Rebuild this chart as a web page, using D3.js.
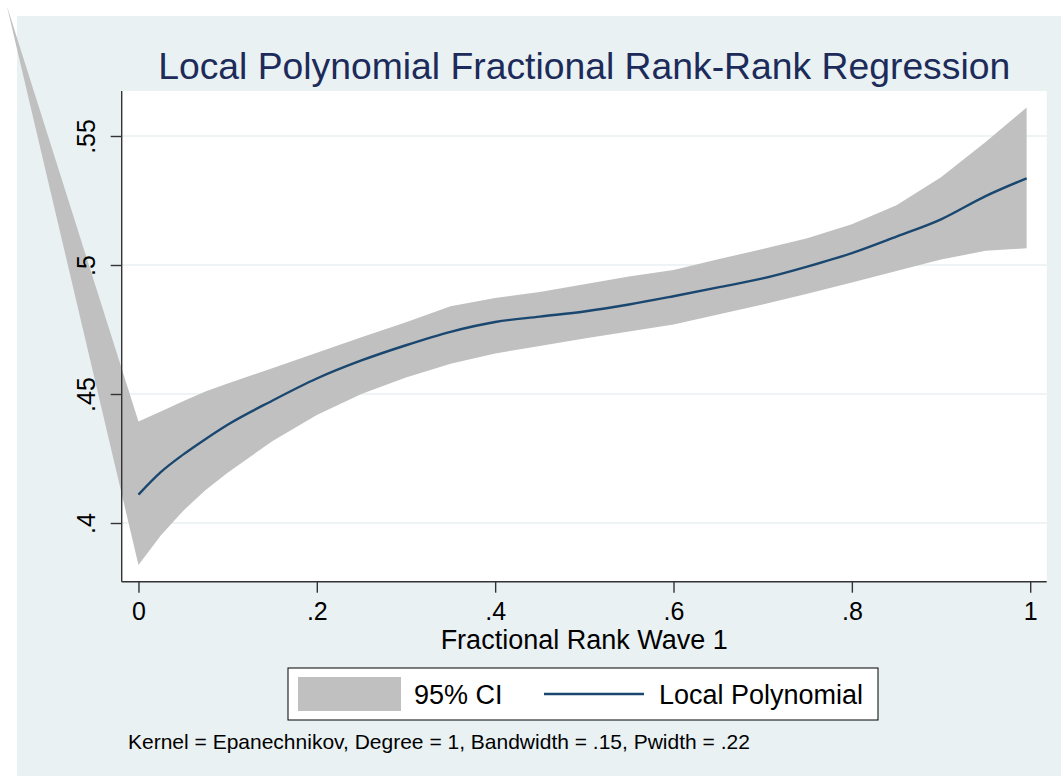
<!DOCTYPE html>
<html>
<head>
<meta charset="utf-8">
<title>Local Polynomial Fractional Rank-Rank Regression</title>
<script src="https://cdn.jsdelivr.net/npm/d3@7"></script>
<style>
    body { margin: 0; background: #fff; }
    svg { display: block; overflow: visible; }
    text { font-family: "Liberation Sans", Arial, sans-serif; }
</style>
</head>
<body>
<script>
// evaluation grid (fractional rank wave 1)
var gridX = [-0.147, 0, 0.025, 0.05, 0.075, 0.1, 0.15, 0.2, 0.25, 0.3, 0.35, 0.4, 0.45,
             0.5, 0.55, 0.6, 0.65, 0.7, 0.75, 0.8, 0.85, 0.9, 0.95, 0.996];
// 95% CI bounds
var ciUpper = [0.5998, 0.4393, 0.4432, 0.4472, 0.4510, 0.4541, 0.4600, 0.4660, 0.4720, 0.4778, 0.4840, 0.4872, 0.4895,
               0.4925, 0.4955, 0.4981, 0.5022, 0.5062, 0.5104, 0.5158, 0.5232, 0.5340, 0.5477, 0.5610];
var ciLower = [0.5995, 0.3837, 0.3952, 0.4047, 0.4127, 0.4195, 0.4317, 0.4419, 0.4500, 0.4564, 0.4617, 0.4657, 0.4686,
               0.4715, 0.4742, 0.4769, 0.4808, 0.4847, 0.4889, 0.4932, 0.4977, 0.5021, 0.5055, 0.5065];
// local polynomial fit (no estimate at the leftmost grid point)
var fitY = [null, 0.4110, 0.4197, 0.4265, 0.4325, 0.4381, 0.4474, 0.4560, 0.4630, 0.4689, 0.4741, 0.4779, 0.4800,
            0.4820, 0.4847, 0.4879, 0.4913, 0.4948, 0.4994, 0.5046, 0.5110, 0.5177, 0.5267, 0.5336];

var xTicks = [0, 0.2, 0.4, 0.6, 0.8, 1];
var yTicks = [0.4, 0.45, 0.5, 0.55];

var titleText = "Local Polynomial Fractional Rank-Rank Regression";
var xTitle = "Fractional Rank Wave 1";
var legendLabels = ["95% CI", "Local Polynomial"];
var noteText = "Kernel = Epanechnikov, Degree = 1, Bandwidth = .15, Pwidth = .22";

var W = 1061, H = 776;
var plot = { left: 121.7, right: 1046.7, top: 91, bottom: 581.7 };

var stataNum = function (v) {
    var s = d3.format("")(+v.toFixed(2));
    return s.replace(/^0\./, ".");
};

var svg = d3.select("body").append("svg")
    .attr("width", W)
    .attr("height", H);

// graph region
svg.append("rect")
    .attr("x", 17).attr("y", 16)
    .attr("width", W - 17).attr("height", H - 16)
    .attr("fill", "#e9f1f3");

// plot region
svg.append("rect")
    .attr("x", plot.left).attr("y", plot.top)
    .attr("width", plot.right - plot.left)
    .attr("height", plot.bottom - plot.top)
    .attr("fill", "#fff");

var x = d3.scaleLinear()
    .domain([-0.0188, 1.0185])
    .range([plot.left, plot.right]);
var y = d3.scaleLinear()
    .domain([0.37725, 0.56744])
    .range([plot.bottom, plot.top]);

// gridlines
svg.append("g").selectAll("line")
    .data(yTicks)
    .enter().append("line")
    .attr("x1", plot.left).attr("x2", plot.right)
    .attr("y1", function (d) { return y(d); })
    .attr("y2", function (d) { return y(d); })
    .attr("stroke", "#e9f1f3")
    .attr("stroke-width", 1.6);

var rows = gridX.map(function (g, i) {
    return { x: g, lo: ciLower[i], hi: ciUpper[i], fit: fitY[i] };
});

// CI band
var area = d3.area()
    .x(function (d) { return x(d.x); })
    .y0(function (d) { return y(d.lo); })
    .y1(function (d) { return y(d.hi); });
svg.append("path")
    .datum(rows)
    .attr("d", area)
    .attr("fill", "#c0c0c0");

// fitted line
var line = d3.line()
    .defined(function (d) { return d.fit !== null; })
    .x(function (d) { return x(d.x); })
    .y(function (d) { return y(d.fit); })
    .curve(d3.curveMonotoneX);
svg.append("path")
    .datum(rows)
    .attr("d", line)
    .attr("fill", "none")
    .attr("stroke", "#1a476f")
    .attr("stroke-width", 2.4);

// axes
var xAxis = d3.axisBottom(x)
    .tickValues(xTicks)
    .tickSize(11)
    .tickPadding(10)
    .tickFormat(stataNum);
var yAxis = d3.axisLeft(y)
    .tickValues(yTicks)
    .tickSize(11)
    .tickFormat(stataNum);

var gx = svg.append("g")
    .attr("transform", "translate(0," + plot.bottom + ")")
    .call(xAxis);
gx.select(".domain")
    .attr("d", "M" + plot.left + ",0H" + plot.right);
gx.selectAll("text")
    .attr("fill", "#000")
    .style("font-size", "25px")
    .style("font-family", "'Liberation Sans', Arial, sans-serif");

var gy = svg.append("g")
    .attr("transform", "translate(" + plot.left + ",0)")
    .call(yAxis);
gy.select(".domain")
    .attr("d", "M0," + plot.top + "V" + plot.bottom);
gy.selectAll(".tick text")
    .attr("x", null).attr("dy", null)
    .attr("transform", "translate(-27,0) rotate(-90)")
    .style("text-anchor", "middle")
    .attr("fill", "#000")
    .style("font-size", "25px")
    .style("font-family", "'Liberation Sans', Arial, sans-serif");

svg.selectAll(".domain, .tick line")
    .attr("stroke", "#333")
    .attr("stroke-width", 1.4);

// titles
svg.append("text")
    .attr("x", (plot.left + plot.right) / 2)
    .attr("y", 79)
    .attr("text-anchor", "middle")
    .attr("fill", "#1c2b59")
    .style("font-size", "37.3px")
    .text(titleText);

svg.append("text")
    .attr("x", (plot.left + plot.right) / 2)
    .attr("y", 649)
    .attr("text-anchor", "middle")
    .attr("fill", "#000")
    .style("font-size", "27px")
    .text(xTitle);

// legend
var lg = svg.append("g");
lg.append("rect")
    .attr("x", 288).attr("y", 668)
    .attr("width", 590).attr("height", 52)
    .attr("fill", "#fff")
    .attr("stroke", "#000")
    .attr("stroke-width", 1);
lg.append("rect")
    .attr("x", 298).attr("y", 677)
    .attr("width", 103).attr("height", 34)
    .attr("fill", "#c0c0c0");
lg.append("text")
    .attr("x", 414).attr("y", 704)
    .attr("fill", "#000")
    .style("font-size", "27px")
    .text(legendLabels[0]);
lg.append("line")
    .attr("x1", 544).attr("x2", 644)
    .attr("y1", 694).attr("y2", 694)
    .attr("stroke", "#1a476f")
    .attr("stroke-width", 2.4);
lg.append("text")
    .attr("x", 659).attr("y", 704)
    .attr("fill", "#000")
    .style("font-size", "27px")
    .text(legendLabels[1]);

// note
svg.append("text")
    .attr("x", 128).attr("y", 749)
    .attr("fill", "#000")
    .style("font-size", "21px")
    .text(noteText);
</script>
</body>
</html>
